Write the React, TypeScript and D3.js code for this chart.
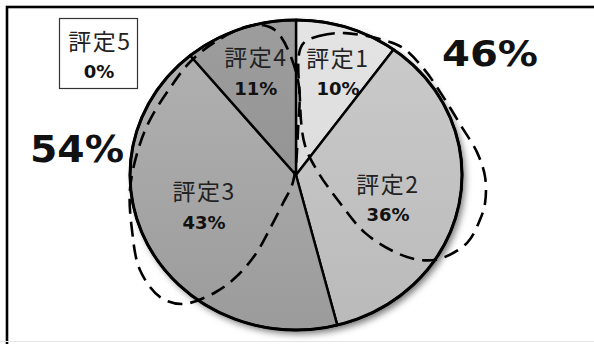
import React from "react";
import * as d3 from "d3";

// ---- data ----
const categories = ["評定1", "評定2", "評定3", "評定4", "評定5"];
const values = [10, 36, 43, 11, 0];
const percentLabels = ["10%", "36%", "43%", "11%", "0%"];
const groupLabels = ["46%", "54%"];

// ---- styling / layout ----
const W = 594;
const H = 344;
const CX = 296;
const CY = 175;
const R = 155;
const SX = 166 / 155;
const sliceTop = ["#e4e4e4", "#cbcbcb", "#b3b3b3", "#9d9d9d", "#ffffff"];
const sliceBottom = ["#d6d6d6", "#bababa", "#9b9b9b", "#8c8c8c", "#ffffff"];
// label placement in [angleDeg, radius fraction]
const labelPolar: [number, number][] = [
  [21, 0.705],
  [105.6, 0.575],
  [250, 0.589],
  [340, 0.707],
];
// hand-drawn dashed group outlines in [angleDeg, radius fraction]
const outline46: [number, number][] = [
  [2.5, 0.84], [9.2, 0.91], [17.9, 0.962], [31.7, 1.02], [38.2, 1.043],
  [48.7, 1.03], [60.3, 1.02], [72.6, 1.045], [82.3, 1.1], [90.6, 1.139],
  [99, 1.153], [104.7, 1.145], [113, 1.12], [121.7, 1.025], [126.3, 0.926],
  [129.6, 0.79], [131.9, 0.559], [124.3, 0.321], [81.9, 0.134], [15.6, 0.2],
  [2.8, 0.485],
];
const outline54: [number, number][] = [
  [342.2, 1.003], [348, 0.99], [353, 0.93], [1.1, 0.613], [2.4, 0.29],
  [201.8, 0.048], [203.3, 0.197], [204.3, 0.368], [205.3, 0.55], [208.2, 0.725],
  [212.6, 0.896], [219.3, 1.075], [226.1, 1.136], [236.9, 1.122], [250.2, 1.05],
  [264.5, 1.005], [279.6, 0.965], [291.9, 0.949], [306.5, 0.944], [318.8, 0.969],
  [330.4, 0.987],
];

const JP = "'Noto Sans CJK JP', 'Noto Sans', sans-serif";
const NUM = "'DejaVu Sans', Verdana, sans-serif";

export default function App() {
  const pie = d3.pie<number>().sort(null).value((d) => d)(values);
  const arc = d3.arc<d3.PieArcDatum<number>>().innerRadius(0).outerRadius(R);
  const radial = d3
    .lineRadial<[number, number]>()
    .angle((d) => (d[0] * Math.PI) / 180)
    .radius((d) => d[1] * R)
    .curve(d3.curveCatmullRomClosed.alpha(0.5));

  const toXY = (p: [number, number]) => {
    const a = (p[0] * Math.PI) / 180;
    return [CX + SX * R * p[1] * Math.sin(a), CY - R * p[1] * Math.cos(a)];
  };

  return (
    <svg
      width={W}
      height={H}
      style={{ position: "absolute", left: 0, top: 0, background: "#fff" }}
    >
      <defs>
        <filter id="shadow" x="-20%" y="-20%" width="140%" height="140%">
          <feDropShadow dx="3" dy="4" stdDeviation="3.5" floodColor="#000" floodOpacity="0.55" />
        </filter>
        {values.map((_, i) => (
          <linearGradient
            key={i}
            id={`g${i}`}
            gradientUnits="userSpaceOnUse"
            x1="0"
            y1={-R}
            x2="0"
            y2={R}
          >
            <stop offset="0" stopColor={sliceTop[i]} />
            <stop offset="1" stopColor={sliceBottom[i]} />
          </linearGradient>
        ))}
      </defs>
      <rect x={0} y={0} width={W} height={H} fill="#fff" />
      {/* frame */}
      <rect x={7} y={7} width={640} height={420} fill="none" stroke="#000" strokeWidth={2.6} />
      <line x1={0} y1={341.5} x2={W} y2={341.5} stroke="#e6e6e6" strokeWidth={1} />

      <g transform={`translate(${CX},${CY}) scale(${SX},1)`}>
        <circle r={R} fill="#bbb" filter="url(#shadow)" />
        {pie.map((p, i) =>
          p.endAngle > p.startAngle ? (
            <path
              key={i}
              d={arc(p) || ""}
              fill={`url(#g${i})`}
              stroke="#000"
              strokeWidth={2.4}
              strokeLinejoin="round"
              vectorEffect="non-scaling-stroke"
            />
          ) : null
        )}
        <circle r={R} fill="none" stroke="#000" strokeWidth={3} vectorEffect="non-scaling-stroke" />
      </g>

      {/* slice labels */}
      {labelPolar.map((lp, i) => {
        const [x, y] = toXY(lp);
        return (
          <g key={i}>
            <text
              x={x}
              y={y - 16}
              textAnchor="middle"
              dominantBaseline="central"
              fontFamily={JP}
              fontSize={23}
              letterSpacing={1.5}
              fill="#222"
            >
              {categories[i]}
            </text>
            <text
              x={x}
              y={y + 16}
              textAnchor="middle"
              dominantBaseline="central"
              fontFamily={NUM}
              fontWeight="bold"
              fontSize={18}
              fill="#111"
            >
              {percentLabels[i]}
            </text>
          </g>
        );
      })}

      {/* 0% callout */}
      <rect x={59.5} y={18.5} width={78} height={70} fill="#fff" stroke="#333" strokeWidth={1.2} />
      <text x={100} y={40} textAnchor="middle" dominantBaseline="central" fontFamily={JP} fontSize={23} letterSpacing={1.5} fill="#222">
        {categories[4]}
      </text>
      <text x={99} y={71} textAnchor="middle" dominantBaseline="central" fontFamily={NUM} fontWeight="bold" fontSize={18} fill="#111">
        {percentLabels[4]}
      </text>

      {/* dashed group outlines */}
      <g transform={`translate(${CX},${CY}) scale(${SX},1)`}>
        {[outline46, outline54].map((o, i) => (
          <path
            key={i}
            d={radial(o) || ""}
            fill="none"
            stroke="#000"
            strokeWidth={2.6}
            strokeDasharray="15 8"
            vectorEffect="non-scaling-stroke"
          />
        ))}
      </g>

      {/* group labels */}
      <text x={490} y={53} textAnchor="middle" dominantBaseline="central" fontFamily={NUM} fontWeight="bold" fontSize={36} textLength={96} lengthAdjust="spacingAndGlyphs" fill="#111">
        {groupLabels[0]}
      </text>
      <text x={77} y={149} textAnchor="middle" dominantBaseline="central" fontFamily={NUM} fontWeight="bold" fontSize={37} textLength={94} lengthAdjust="spacingAndGlyphs" fill="#111">
        {groupLabels[1]}
      </text>
    </svg>
  );
}
